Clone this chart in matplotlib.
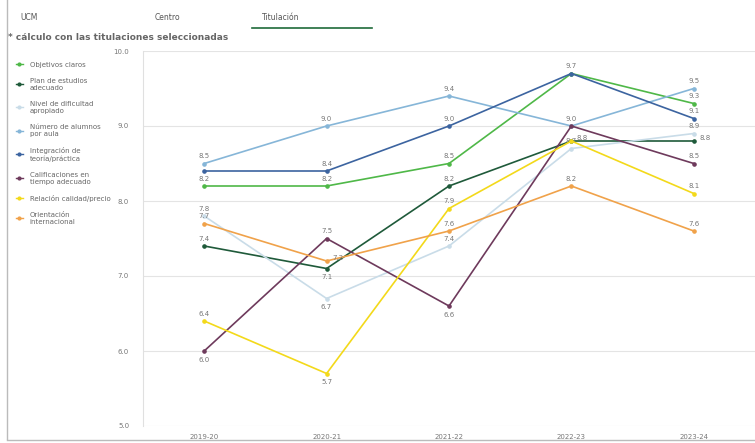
import numpy as np
import matplotlib.pyplot as plt
from matplotlib.lines import Line2D

years = ["2019-20", "2020-21", "2021-22", "2022-23", "2023-24"]

objetivos = [8.2, 8.2, 8.5, 9.7, 9.3]
plan = [7.4, 7.1, 8.2, 8.8, 8.8]
dificultad = [7.8, 6.7, 7.4, 8.7, 8.9]
alumnos = [8.5, 9.0, 9.4, 9.0, 9.5]
integracion = [8.4, 8.4, 9.0, 9.7, 9.1]
calificaciones = [6.0, 7.5, 6.6, 9.0, 8.5]
calidad = [6.4, 5.7, 7.9, 8.8, 8.1]
internacional = [7.7, 7.2, 7.6, 8.2, 7.6]

names = ["Objetivos claros", "Plan de estudios\nadecuado", "Nivel de dificultad\napropiado",
         "Número de alumnos\npor aula", "Integración de\nteoría/práctica",
         "Calificaciones en\ntiempo adecuado", "Relación calidad/precio",
         "Orientación\ninternacional"]
series = [objetivos, plan, dificultad, alumnos, integracion, calificaciones, calidad, internacional]
colors = ["#4fb848", "#1f5a3a", "#c9dce8", "#86b6d8", "#3c64a0", "#6e3a5c", "#f3d91a", "#f0a24a"]

# label placement: below / right / hidden (Qlik hides overlapping ones)
below = {(1, 1), (2, 1), (5, 0), (6, 1), (5, 2)}
right = {(1, 3), (1, 4), (7, 1)}
hidden = {(4, 0), (4, 3), (3, 3), (6, 3)}

fig = plt.figure(figsize=(7.55, 4.43), dpi=100)
ax = fig.add_axes([143/755, 1-426/443, 1-143/755, (426-51)/443])

x = np.arange(len(years))
for i, (vals, c) in enumerate(zip(series, colors)):
    ax.plot(x, vals, color=c, lw=1.2, marker="o", ms=2.3, zorder=3)
    for j, v in enumerate(vals):
        if (i, j) in hidden:
            continue
        if (i, j) in below:
            ax.annotate(f"{v:.1f}", (j, v), xytext=(0, -4), textcoords="offset points",
                        ha="center", va="top", fontsize=5, color="#777777")
        elif (i, j) in right:
            ax.annotate(f"{v:.1f}", (j, v), xytext=(4, 2), textcoords="offset points",
                        ha="left", va="center", fontsize=5, color="#777777")
        else:
            ax.annotate(f"{v:.1f}", (j, v), xytext=(0, 3), textcoords="offset points",
                        ha="center", va="bottom", fontsize=5, color="#777777")

ax.set_xlim(-0.5, 4.5)
ax.set_ylim(5, 10)
ax.set_yticks([5, 6, 7, 8, 9, 10])
ax.set_yticklabels([f"{t:.1f}" for t in [5, 6, 7, 8, 9, 10]])
ax.set_xticks(x)
ax.set_xticklabels(years)
ax.tick_params(axis="both", labelsize=5, colors="#777777", length=0, pad=6)
ax.tick_params(axis="y", pad=10)
ax.grid(axis="y", color="#e4e4e4", lw=0.8)
ax.set_axisbelow(True)
for s in ["top", "right", "bottom"]:
    ax.spines[s].set_visible(False)
ax.spines["left"].set_color("#e0e0e0")

handles = [Line2D([0], [0], color=c, lw=1, marker="o", ms=2) for c in colors]
fig.legend(handles, names, loc="upper left", bbox_to_anchor=(13/755, 1-59/443),
           frameon=False, fontsize=5, labelcolor="#666666", handlelength=1.0,
           handletextpad=1.0, labelspacing=1.45, borderaxespad=0)

# header
fig.text(20/755, 1-17/443, "UCM", fontsize=5.5, color="#555555", va="center")
fig.text(155/755, 1-17/443, "Centro", fontsize=5.5, color="#555555", va="center")
fig.text(262/755, 1-17/443, "Titulación", fontsize=5.5, color="#555555", va="center")
fig.add_artist(Line2D([252/755, 372/755], [1-28/443, 1-28/443], color="#1f6b3a", lw=1.2))
fig.text(8/755, 1-37/443, "* cálculo con las titulaciones seleccionadas", fontsize=6.5,
         color="#666666", fontweight="bold", va="center")
fig.add_artist(Line2D([7/755, 7/755], [0.01, 1], color="#bbbbbb", lw=1))
fig.add_artist(Line2D([7/755, 1], [3/443, 3/443], color="#bbbbbb", lw=1))

fig.savefig("out.png", dpi=100)
